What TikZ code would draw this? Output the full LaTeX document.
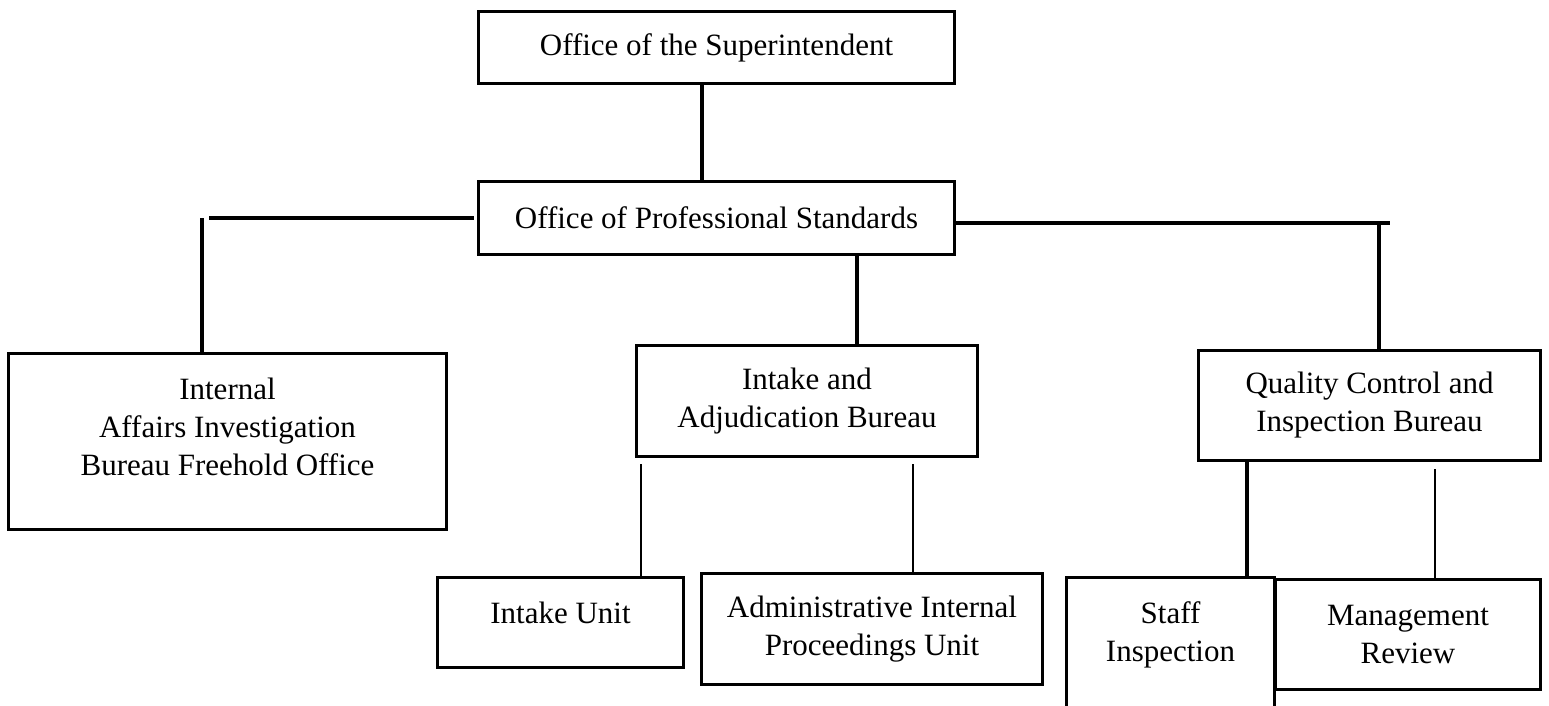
\documentclass[tikz,border=0pt]{standalone}
\usepackage{fontspec}
\setmainfont{Liberation Serif}
\newcommand{\orgfont}{\fontsize{31}{38}\selectfont}
\begin{document}
\begin{tikzpicture}[x=1pt,y=-1pt,
  box/.style={draw,line width=3.2pt,inner sep=0pt,align=center,font=\orgfont},
  txt/.style={inner sep=0pt,align=center,font=\orgfont},
  link/.style={line width=3.2pt},
  thinlink/.style={line width=2pt}]
\useasboundingbox (0,0) rectangle (1549,705);
\clip (0,0) rectangle (1549,705);
\node[box,minimum width=476,minimum height=72] (sup) at (716.5,47.5) {Office of the Superintendent};
\node[box,minimum width=476,minimum height=73] (ops) at (716.5,218) {Office of Professional Standards};
\node[box,minimum width=438,minimum height=176] (iai) at (227.5,441.5) {};
\node[txt] (iaitext) at (227.5,426.5) {Internal\\Affairs Investigation\\Bureau Freehold Office};
\node[box,minimum width=341,minimum height=111] (iab) at (807,401) {Intake and\\Adjudication Bureau};
\node[box,minimum width=342,minimum height=110] (qc) at (1369.5,405.5) {Quality Control and\\Inspection Bureau};
\node[box,minimum width=246,minimum height=90] (intake) at (560.5,622.5) {};
\node[txt] (intaketext) at (560.5,613) {Intake Unit};
\node[box,minimum width=341,minimum height=111] (aipu) at (872,629) {Administrative Internal\\Proceedings Unit};
\node[box,minimum width=208,minimum height=240] (staff) at (1170.5,697.6) {};
\node[txt] (stafftext) at (1170.5,634.5) {Staff\\Inspection};
\node[box,minimum width=265,minimum height=110] (mgmt) at (1408,634.5) {Management\\Review};
\coordinate (supx) at (702,0);
\draw[link] (sup.south -| supx) -- (ops.north -| supx);
\coordinate (leftbend) at (202,218);
\draw[link] ([xshift=-3pt]ops.west) -- ([xshift=7pt]leftbend);
\draw[link] (leftbend) -- (leftbend |- iai.north);
\coordinate (rightbend) at (1379,223);
\draw[link] (ops.east |- rightbend) -- ([xshift=11pt]rightbend);
\draw[link] (rightbend) -- (rightbend |- qc.north);
\coordinate (midx) at (857,0);
\draw[link] (ops.south -| midx) -- (iab.north -| midx);
\coordinate (intakex) at (641,464);
\draw[thinlink] (intakex) -- (intakex |- intake.north);
\coordinate (aipux) at (913,464);
\draw[thinlink] (aipux) -- (aipux |- aipu.north);
\coordinate (staffx) at (1247,0);
\draw[link] (qc.south -| staffx) -- (staff.north -| staffx);
\coordinate (mgmtx) at (1435,469);
\draw[thinlink] (mgmtx) -- (mgmtx |- mgmt.north);
\end{tikzpicture}
\end{document}
